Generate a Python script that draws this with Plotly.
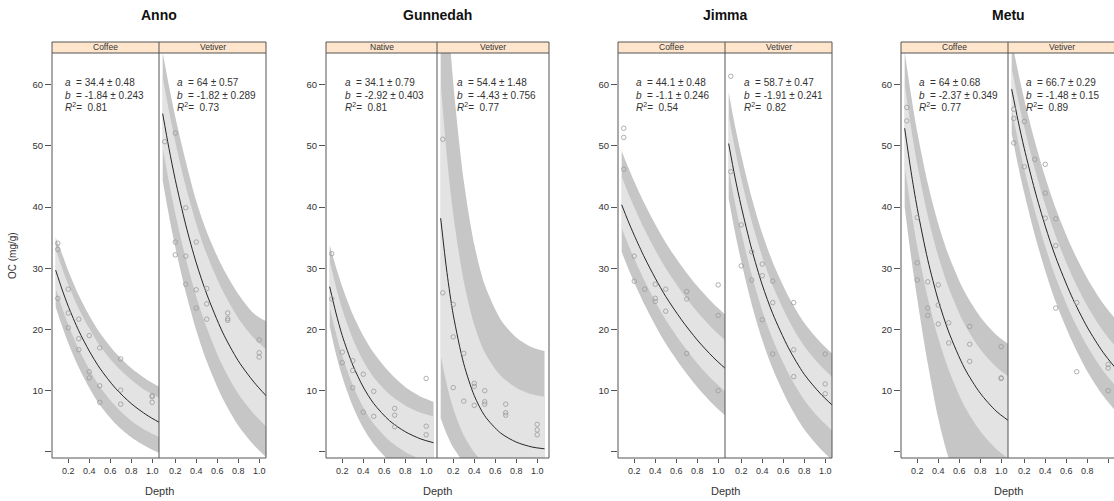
import plotly.graph_objects as go

W, H = 1114, 501
NB = "\u00a0"

# ---------------- data ----------------
depth_grid = [0.08, 0.14, 0.2, 0.3, 0.4, 0.5, 0.65, 0.8, 0.95, 1.07]
x_ticks = [0.2, 0.4, 0.6, 0.8, 1.0]
x_tick_labels = ["0.2", "0.4", "0.6", "0.8", "1.0"]
y_ticks = [10, 20, 30, 40, 50, 60]
y_tick_labels = ["10", "20", "30", "40", "50", "60"]
y_unlabelled_ticks = [0]

sites = ["Anno", "Gunnedah", "Jimma", "Metu"]
treatments = [["Coffee", "Vetiver"], ["Native", "Vetiver"], ["Coffee", "Vetiver"], ["Coffee", "Vetiver"]]

# Anno - Coffee
anno_coffee_depth = [0.1, 0.1, 0.1, 0.2, 0.2, 0.2, 0.3, 0.3, 0.3, 0.4, 0.4, 0.4, 0.5, 0.5, 0.5, 0.7, 0.7, 0.7, 1.0, 1.0, 1.0]
anno_coffee_oc = [34.1, 33.1, 25.1, 26.6, 22.7, 20.3, 21.7, 18.5, 16.7, 19.0, 13.1, 12.1, 17.0, 10.8, 8.1, 15.2, 10.1, 7.8, 9.2, 9.0, 8.1]
anno_coffee_fit = [29.7, 26.6, 23.8, 19.8, 16.5, 13.7, 10.4, 7.9, 6.0, 4.8]
anno_coffee_in_hi = [33.2, 30.1, 27.3, 23.4, 20.2, 17.4, 14.2, 11.8, 9.9, 8.8]
anno_coffee_in_lo = [26.7, 23.6, 20.8, 16.8, 13.5, 10.7, 7.5, 5.1, 3.4, 2.4]
anno_coffee_out_hi = [35.0, 32.4, 29.6, 25.6, 22.3, 19.5, 16.2, 13.7, 11.8, 10.6]
anno_coffee_out_lo = [23.7, 20.6, 17.8, 13.8, 10.5, 7.7, 4.6, 2.4, 0.8, -0.2]
anno_coffee_stats = ["34.4 ± 0.48", "-1.84 ± 0.243", "0.81"]

# Anno - Vetiver
anno_vetiver_depth = [0.1, 0.2, 0.2, 0.2, 0.3, 0.3, 0.3, 0.4, 0.4, 0.4, 0.5, 0.5, 0.5, 0.7, 0.7, 0.7, 1.0, 1.0, 1.0]
anno_vetiver_oc = [50.7, 52.1, 34.3, 32.2, 39.9, 32.0, 27.4, 34.3, 26.5, 23.5, 26.7, 24.2, 21.7, 22.7, 21.8, 21.5, 18.3, 16.2, 15.5]
anno_vetiver_fit = [55.3, 49.6, 44.5, 37.1, 30.9, 25.8, 19.6, 14.9, 11.4, 9.1]
anno_vetiver_in_hi = [61.3, 55.7, 50.7, 43.4, 37.3, 32.3, 26.4, 21.9, 18.6, 16.7]
anno_vetiver_in_lo = [49.8, 44.1, 39.0, 31.6, 25.4, 20.3, 14.1, 9.5, 6.2, 4.1]
anno_vetiver_out_hi = [65.3, 59.8, 54.8, 47.5, 41.0, 36.0, 30.2, 25.8, 22.6, 21.3]
anno_vetiver_out_lo = [44.3, 38.6, 33.5, 26.1, 19.9, 14.8, 8.8, 4.3, 1.1, -0.9]
anno_vetiver_stats = ["64 ± 0.57", "-1.82 ± 0.289", "0.73"]

# Gunnedah - Native
gunnedah_native_depth = [0.1, 0.1, 0.2, 0.2, 0.3, 0.3, 0.3, 0.4, 0.4, 0.5, 0.5, 0.7, 0.7, 0.7, 1.0, 1.0, 1.0]
gunnedah_native_oc = [32.4, 25.0, 16.3, 14.6, 14.9, 13.3, 10.5, 12.7, 6.5, 9.9, 5.8, 7.1, 6.0, 4.1, 12.0, 4.2, 2.8]
gunnedah_native_fit = [27.0, 22.7, 19.0, 14.2, 10.6, 7.9, 5.1, 3.3, 2.1, 1.5]
gunnedah_native_in_hi = [31.3, 27.0, 23.3, 18.5, 14.9, 12.2, 9.4, 7.6, 6.4, 5.8]
gunnedah_native_in_lo = [23.7, 19.4, 15.7, 10.9, 7.3, 4.6, 1.8, 0.0, -1.2, -1.8]
gunnedah_native_out_hi = [33.8, 30.2, 27.0, 22.5, 19.0, 16.2, 13.0, 10.6, 9.0, 8.2]
gunnedah_native_out_lo = [20.5, 16.0, 12.3, 7.5, 3.9, 1.3, -1.5, -3.5, -4.8, -5.5]
gunnedah_native_stats = ["34.1 ± 0.79", "-2.92 ± 0.403", "0.81"]

# Gunnedah - Vetiver
gunnedah_vetiver_depth = [0.1, 0.1, 0.2, 0.2, 0.2, 0.3, 0.3, 0.4, 0.4, 0.4, 0.5, 0.5, 0.5, 0.7, 0.7, 0.7, 1.0, 1.0, 1.0]
gunnedah_vetiver_oc = [51.1, 26.0, 24.1, 18.8, 10.5, 16.1, 8.3, 11.2, 10.7, 7.6, 10.0, 8.2, 7.8, 7.8, 6.4, 6.0, 4.5, 3.6, 2.8]
gunnedah_vetiver_fit = [38.2, 29.3, 22.4, 14.4, 9.2, 5.9, 3.1, 1.6, 0.8, 0.5]
gunnedah_vetiver_in_hi = [60.3, 48.1, 38.8, 27.9, 20.8, 16.3, 12.5, 10.5, 9.4, 9.0]
gunnedah_vetiver_in_lo = [15.8, 10.9, 7.1, 2.7, -0.1, -1.9, -3.5, -4.3, -4.8, -4.9]
gunnedah_vetiver_out_hi = [91.9, 74.1, 60.3, 44.3, 33.9, 27.3, 21.7, 18.7, 17.1, 16.5]
gunnedah_vetiver_out_lo = [5.5, 2.8, 0.7, -1.7, -3.2, -4.2, -5.1, -5.5, -5.8, -5.9]
gunnedah_vetiver_stats = ["54.4 ± 1.48", "-4.43 ± 0.756", "0.77"]

# Jimma - Coffee
jimma_coffee_depth = [0.1, 0.1, 0.1, 0.2, 0.2, 0.3, 0.4, 0.4, 0.4, 0.5, 0.5, 0.7, 0.7, 0.7, 1.0, 1.0, 1.0]
jimma_coffee_oc = [52.9, 51.4, 46.2, 32.0, 27.9, 26.6, 27.4, 25.1, 24.6, 26.6, 23.0, 26.2, 25.0, 16.1, 27.3, 22.3, 10.0]
jimma_coffee_fit = [40.4, 37.8, 35.4, 31.7, 28.4, 25.4, 21.6, 18.3, 15.5, 13.6]
jimma_coffee_in_hi = [45.0, 42.4, 40.0, 36.3, 33.0, 30.0, 26.2, 22.9, 20.1, 18.2]
jimma_coffee_in_lo = [36.6, 34.0, 31.6, 27.9, 24.6, 21.6, 17.8, 14.5, 11.7, 9.8]
jimma_coffee_out_hi = [49.2, 46.6, 44.2, 40.5, 37.2, 34.2, 30.4, 27.1, 24.3, 22.4]
jimma_coffee_out_lo = [32.7, 30.1, 27.7, 24.0, 20.7, 17.7, 13.9, 10.6, 7.8, 5.9]
jimma_coffee_stats = ["44.1 ± 0.48", "-1.1 ± 0.246", "0.54"]

# Jimma - Vetiver
jimma_vetiver_depth = [0.1, 0.1, 0.2, 0.2, 0.3, 0.3, 0.4, 0.4, 0.4, 0.5, 0.5, 0.5, 0.7, 0.7, 0.7, 1.0, 1.0, 1.0]
jimma_vetiver_oc = [61.4, 45.8, 37.1, 30.4, 32.7, 28.1, 30.7, 28.8, 21.6, 27.9, 24.4, 16.0, 24.4, 16.7, 12.3, 16.0, 11.1, 9.5]
jimma_vetiver_fit = [50.4, 44.9, 40.1, 33.1, 27.3, 22.6, 17.0, 12.7, 9.6, 7.6]
jimma_vetiver_in_hi = [55.0, 49.5, 44.7, 37.7, 31.9, 27.2, 21.6, 17.3, 14.2, 12.2]
jimma_vetiver_in_lo = [46.2, 40.7, 35.9, 28.9, 23.1, 18.4, 12.8, 8.5, 5.4, 3.4]
jimma_vetiver_out_hi = [58.8, 53.3, 48.5, 41.5, 35.7, 31.0, 25.4, 21.1, 18.0, 16.0]
jimma_vetiver_out_lo = [41.4, 35.9, 31.1, 24.1, 18.3, 13.6, 8.0, 3.7, 0.6, -1.4]
jimma_vetiver_stats = ["58.7 ± 0.47", "-1.91 ± 0.241", "0.82"]

# Metu - Coffee
metu_coffee_depth = [0.1, 0.1, 0.2, 0.2, 0.2, 0.3, 0.3, 0.3, 0.4, 0.4, 0.4, 0.5, 0.5, 0.7, 0.7, 0.7, 1.0, 1.0, 1.0]
metu_coffee_oc = [56.3, 54.1, 38.3, 30.9, 28.1, 27.8, 23.5, 22.3, 27.3, 24.0, 20.9, 21.1, 17.8, 20.5, 17.6, 14.8, 17.2, 12.1, 12.0]
metu_coffee_fit = [52.9, 45.9, 39.8, 31.4, 24.8, 19.6, 13.7, 9.6, 6.7, 5.1]
metu_coffee_in_hi = [60.1, 53.1, 47.0, 38.6, 32.0, 26.8, 20.9, 16.8, 13.9, 12.3]
metu_coffee_in_lo = [46.7, 39.7, 33.6, 25.2, 18.6, 13.4, 7.5, 3.4, 0.5, -1.1]
metu_coffee_out_hi = [65.4, 58.4, 52.3, 43.9, 37.3, 32.1, 26.2, 22.1, 19.2, 17.6]
metu_coffee_out_lo = [40.0, 32.0, 25.0, 14.5, 5.5, -1.0, -6.9, -11.0, -13.9, -15.5]
metu_coffee_stats = ["64 ± 0.68", "-2.37 ± 0.349", "0.77"]

# Metu - Vetiver
metu_vetiver_depth = [0.1, 0.1, 0.1, 0.2, 0.2, 0.3, 0.4, 0.4, 0.4, 0.5, 0.5, 0.5, 0.7, 0.7, 1.0, 1.0, 1.0]
metu_vetiver_oc = [56.0, 54.5, 50.5, 54.0, 46.6, 47.8, 47.0, 42.3, 38.2, 38.1, 33.7, 23.5, 24.4, 13.1, 14.3, 13.7, 10.0]
metu_vetiver_fit = [59.3, 54.2, 49.6, 42.8, 36.9, 31.8, 25.5, 20.4, 16.3, 13.7]
metu_vetiver_in_hi = [62.8, 57.7, 53.1, 46.3, 40.4, 35.3, 29.0, 23.9, 19.8, 17.2]
metu_vetiver_in_lo = [56.0, 50.9, 46.3, 39.5, 33.6, 28.5, 22.3, 17.3, 13.3, 10.8]
metu_vetiver_out_hi = [67.3, 62.2, 57.6, 50.8, 44.9, 39.8, 33.5, 28.4, 24.3, 21.7]
metu_vetiver_out_lo = [52.0, 46.9, 42.3, 35.5, 29.6, 24.5, 18.3, 13.2, 9.2, 6.7]
metu_vetiver_stats = ["66.7 ± 0.29", "-1.48 ± 0.15", "0.89"]

panels_data = [
    [(anno_coffee_depth, anno_coffee_oc, anno_coffee_fit, anno_coffee_in_hi, anno_coffee_in_lo, anno_coffee_out_hi, anno_coffee_out_lo, anno_coffee_stats),
     (anno_vetiver_depth, anno_vetiver_oc, anno_vetiver_fit, anno_vetiver_in_hi, anno_vetiver_in_lo, anno_vetiver_out_hi, anno_vetiver_out_lo, anno_vetiver_stats)],
    [(gunnedah_native_depth, gunnedah_native_oc, gunnedah_native_fit, gunnedah_native_in_hi, gunnedah_native_in_lo, gunnedah_native_out_hi, gunnedah_native_out_lo, gunnedah_native_stats),
     (gunnedah_vetiver_depth, gunnedah_vetiver_oc, gunnedah_vetiver_fit, gunnedah_vetiver_in_hi, gunnedah_vetiver_in_lo, gunnedah_vetiver_out_hi, gunnedah_vetiver_out_lo, gunnedah_vetiver_stats)],
    [(jimma_coffee_depth, jimma_coffee_oc, jimma_coffee_fit, jimma_coffee_in_hi, jimma_coffee_in_lo, jimma_coffee_out_hi, jimma_coffee_out_lo, jimma_coffee_stats),
     (jimma_vetiver_depth, jimma_vetiver_oc, jimma_vetiver_fit, jimma_vetiver_in_hi, jimma_vetiver_in_lo, jimma_vetiver_out_hi, jimma_vetiver_out_lo, jimma_vetiver_stats)],
    [(metu_coffee_depth, metu_coffee_oc, metu_coffee_fit, metu_coffee_in_hi, metu_coffee_in_lo, metu_coffee_out_hi, metu_coffee_out_lo, metu_coffee_stats),
     (metu_vetiver_depth, metu_vetiver_oc, metu_vetiver_fit, metu_vetiver_in_hi, metu_vetiver_in_lo, metu_vetiver_out_hi, metu_vetiver_out_lo, metu_vetiver_stats)],
]

# ---------------- layout geometry (pixels) ----------------
group_px = [(52, 159, 266), (326, 437, 549), (618, 725, 832), (901, 1008, 1116)]
stat_offsets = [[11, 16], [17, 18], [16, 17], [16, 16]]
PLOT_TOP, PLOT_BOTTOM, STRIP_TOP = 53, 458, 42
X_MIN, X_MAX = 0.045, 1.065
Y_RANGE = [-1.0, 65.2]

DARK = "#c6c6c6"
LIGHT = "#e3e3e3"
FONT = "Liberation Sans, Arial, sans-serif"


def fx(p):
    return p / W


def fy(p):
    return 1 - p / H


fig = go.Figure()
layout = dict(
    width=W, height=H, margin=dict(l=0, r=0, t=0, b=0),
    paper_bgcolor="white", plot_bgcolor="white", showlegend=False,
    font=dict(family=FONT, color="#333333"),
)
shapes, annotations = [], []

idx = 0
for g, site in enumerate(sites):
    L, M, R = group_px[g]
    bounds = [(L, M), (M, R)]
    for p in range(2):
        idx += 1
        xa = "x" if idx == 1 else f"x{idx}"
        ya = "y" if idx == 1 else f"y{idx}"
        xk = "xaxis" if idx == 1 else f"xaxis{idx}"
        yk = "yaxis" if idx == 1 else f"yaxis{idx}"
        pl, pr = bounds[p]
        dom_r = min(pr, W)
        xmax = X_MIN + (dom_r - pl) / 107.0 * (X_MAX - X_MIN)
        depth, oc, fit, in_hi, in_lo, out_hi, out_lo, stats = panels_data[g][p]

        line0 = dict(width=0, shape="spline", smoothing=0.8)
        fig.add_trace(go.Scatter(x=depth_grid, y=out_lo, mode="lines", line=line0, xaxis=xa, yaxis=ya, hoverinfo="skip"))
        fig.add_trace(go.Scatter(x=depth_grid, y=out_hi, mode="lines", line=line0, fill="tonexty", fillcolor=DARK, xaxis=xa, yaxis=ya, hoverinfo="skip"))
        fig.add_trace(go.Scatter(x=depth_grid, y=in_lo, mode="lines", line=line0, xaxis=xa, yaxis=ya, hoverinfo="skip"))
        fig.add_trace(go.Scatter(x=depth_grid, y=in_hi, mode="lines", line=line0, fill="tonexty", fillcolor=LIGHT, xaxis=xa, yaxis=ya, hoverinfo="skip"))
        fig.add_trace(go.Scatter(x=depth_grid, y=fit, mode="lines", line=dict(color="#262626", width=1, shape="spline", smoothing=0.8), xaxis=xa, yaxis=ya))
        fig.add_trace(go.Scatter(x=depth, y=oc, mode="markers",
                                 marker=dict(symbol="circle-open", size=4.5, color="#9a9a9a", line=dict(width=0.8)),
                                 xaxis=xa, yaxis=ya))

        layout[xk] = dict(domain=[fx(pl), fx(dom_r)], range=[X_MIN, xmax], anchor=ya,
                          tickvals=x_ticks, ticktext=x_tick_labels, ticks="outside", ticklen=4,
                          tickcolor="#555555", tickfont=dict(size=9, color="#333333"),
                          showgrid=False, zeroline=False, showline=False)
        first = (p == 0)
        ycfg = dict(domain=[fy(PLOT_BOTTOM), fy(PLOT_TOP)], range=Y_RANGE, anchor=xa,
                    showgrid=False, zeroline=False, showline=False)
        if first:
            ycfg.update(tickvals=y_ticks, ticktext=y_tick_labels, ticks="outside", ticklen=6,
                        tickcolor="#555555", tickfont=dict(size=9.5, color="#333333"),
                        minor=dict(tickvals=y_unlabelled_ticks, ticks="outside", ticklen=6,
                                   tickcolor="#555555", showgrid=False))
        else:
            ycfg.update(showticklabels=False, ticks="")
        layout[yk] = ycfg

        # strip label
        annotations.append(dict(x=fx((pl + pr) / 2), y=fy((STRIP_TOP + PLOT_TOP) / 2), xref="paper", yref="paper",
                                text=treatments[g][p], showarrow=False, font=dict(size=8.5, color="#333333"),
                                xanchor="center", yanchor="middle"))
        # statistics text, one line each
        sx = fx(pl + stat_offsets[g][p])
        lines = [(f"<i>a</i>{NB}{NB}={NB}{stats[0]}", 83),
                 (f"<i>b</i>{NB}{NB}={NB}{stats[1]}", 96),
                 (f"<i>R</i><sup>2</sup>={NB}{NB}{stats[2]}", 107)]
        for txt, yy in lines:
            annotations.append(dict(x=sx, y=fy(yy), xref="paper", yref="paper", text=txt,
                                    showarrow=False, align="left", xanchor="left", yanchor="middle",
                                    font=dict(size=10, color="#333333")))

    # strip background and panel borders
    shapes.append(dict(type="rect", xref="paper", yref="paper", x0=fx(L), x1=fx(R), y0=fy(PLOT_TOP), y1=fy(STRIP_TOP),
                       fillcolor="#ffe5cc", line=dict(width=0), layer="below"))
    shapes.append(dict(type="rect", xref="paper", yref="paper", x0=fx(L), x1=fx(R), y0=fy(PLOT_BOTTOM), y1=fy(STRIP_TOP),
                       line=dict(color="#555555", width=1), layer="above"))
    shapes.append(dict(type="line", xref="paper", yref="paper", x0=fx(M), x1=fx(M), y0=fy(PLOT_BOTTOM), y1=fy(STRIP_TOP),
                       line=dict(color="#555555", width=1), layer="above"))
    shapes.append(dict(type="line", xref="paper", yref="paper", x0=fx(L), x1=fx(R), y0=fy(PLOT_TOP), y1=fy(PLOT_TOP),
                       line=dict(color="#555555", width=1), layer="above"))

    # site title and x label
    annotations.append(dict(x=fx(M), y=fy(15), xref="paper", yref="paper", text=f"<b>{site}</b>",
                            showarrow=False, font=dict(size=14, color="#111111"), xanchor="center", yanchor="middle"))
    annotations.append(dict(x=fx(M), y=fy(491), xref="paper", yref="paper", text="Depth",
                            showarrow=False, font=dict(size=11, color="#333333"), xanchor="center", yanchor="middle"))

annotations.append(dict(x=fx(13), y=fy(256), xref="paper", yref="paper", text="OC (mg/g)", textangle=-90,
                        showarrow=False, font=dict(size=10, color="#333333"), xanchor="center", yanchor="middle"))

layout["shapes"] = shapes
layout["annotations"] = annotations
fig.update_layout(**layout)
fig.write_html("out.html")
